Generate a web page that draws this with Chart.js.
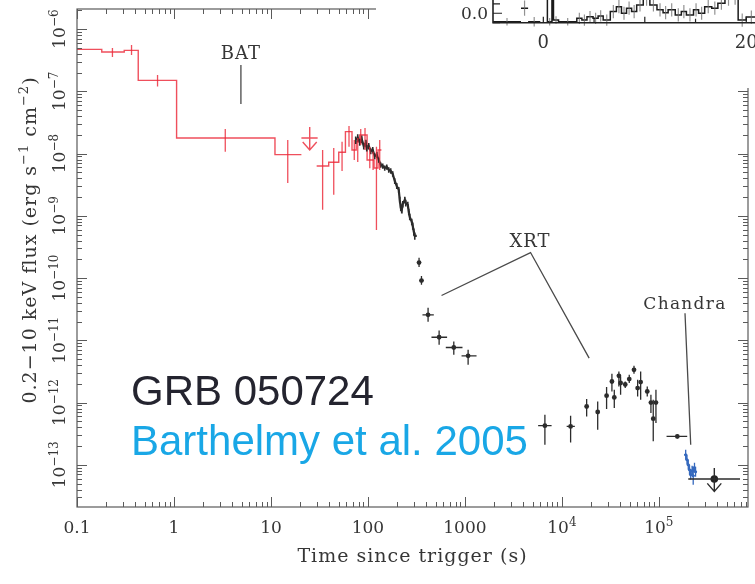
<!DOCTYPE html>
<html>
<head>
<meta charset="utf-8">
<script src="https://cdn.jsdelivr.net/npm/chart.js@4.4.1/dist/chart.umd.min.js"></script>
<style>
  html, body { margin: 0; padding: 0; background: #fff; overflow: hidden; width: 755px; height: 584px; }
  #wrap { position: relative; width: 755px; height: 584px; overflow: hidden; }
  #main { position: absolute; left: 0; top: 0; }
  #inset { position: absolute; left: 376px; top: -120px; }
</style>
</head>
<body>
<div id="wrap">
  <canvas id="main" width="755" height="584"></canvas>
  <canvas id="inset" width="379" height="208"></canvas>
</div>
<script>
// ---------------- BAT binned light curve (extrapolated to 0.2-10 keV) ----------------
const batBinStart = [0.1, 0.18, 0.307, 0.428, 1.064, 11.0, 29.6, 39.4, 50.0, 58.6, 68.5, 75.7, 82.3, 98.0, 115.6, 127.0];
const batBinEnd   = [0.18, 0.307, 0.428, 1.064, 11.0, 20.6, 39.4, 50.0, 58.6, 68.5, 75.7, 82.3, 98.0, 115.6, 127.0, 137.7];
const batFlux     = [4.72e-7, 4.27e-7, 4.55e-7, 1.50e-7, 1.78e-8, 9.6e-9, 6.32e-9, 7.25e-9, 1.05e-8, 2.25e-8, 1.14e-8, 1.55e-8, 1.99e-8, 7.9e-9, 5.87e-9, 1.14e-8];
const batErrTime  = [0.232, 0.365, 0.677, 3.38, 14.9, 34.1, 44.4, 54.1, 63.8, 72.3, 78.5, 84.3, 93.3, 104.5, 113.0, 122.4, 132.3];
const batErrLow   = [3.56e-7, 3.83e-7, 1.19e-7, 1.07e-8, 3.37e-9, 1.25e-9, 2.17e-9, 5.26e-9, 1.29e-8, 7.9e-9, 7.33e-9, 1.37e-8, 1.14e-8, 5.81e-9, 5.45e-9, 5.94e-10, 5.46e-9];
const batErrHigh  = [4.96e-7, 5.53e-7, 1.83e-7, 2.48e-8, 1.65e-8, 1.14e-8, 1.23e-8, 1.55e-8, 2.77e-8, 1.65e-8, 1.78e-8, 2.48e-8, 2.58e-8, 1.29e-8, 1.07e-8, 1.29e-8, 1.65e-8];

// ---------------- XRT windowed-timing curve (dense) ----------------
const xrtCurveTime = [74.8, 78.5, 82.3, 86.3, 90.5, 94.9, 97.2, 101.9, 106.9, 112.1, 117.5, 123.3, 129.2, 135.5, 142.1, 149.0, 156.3, 163.9, 171.8, 180.2, 189.0, 198.2, 207.8, 212.8, 218.0, 223.1, 228.6, 239.9, 245.5, 257.6, 263.6, 269.8, 283.1, 289.8, 297.2, 304.1, 318.9];
const xrtCurveFlux = [1.65e-8, 1.78e-8, 1.53e-8, 1.71e-8, 1.32e-8, 1.48e-8, 1.23e-8, 1.32e-8, 1.10e-8, 1.14e-8, 9.14e-9, 9.5e-9, 7.89e-9, 6.56e-9, 6.32e-9, 5.87e-9, 6.09e-9, 5.46e-9, 5.26e-9, 4.71e-9, 3.63e-9, 3.02e-9, 2.61e-9, 1.80e-9, 1.34e-9, 1.24e-9, 1.55e-9, 1.80e-9, 1.61e-9, 1.50e-9, 1.16e-9, 9.6e-10, 7.98e-10, 6.89e-10, 5.52e-10, 4.76e-10, 4.76e-10];
const xrtCurveRelErr = [0.14, 0.15, 0.13, 0.14, 0.12, 0.13, 0.12, 0.12, 0.11, 0.12, 0.11, 0.11, 0.1, 0.1, 0.1, 0.1, 0.1, 0.1, 0.1, 0.1, 0.11, 0.11, 0.11, 0.12, 0.12, 0.12, 0.12, 0.12, 0.12, 0.12, 0.12, 0.12, 0.12, 0.13, 0.13, 0.13, 0.0];

// ---------------- XRT photon-counting points ----------------
const xrtTime     = [336.6, 356.5, 417, 542, 768, 1079, 6680, 12300, 18000, 23400, 28900, 32800, 34700, 38700, 40300, 45000, 49500, 55400, 60400, 64900, 75900, 82800, 87500, 93300, 155000];
const xrtTimeLow  = [321, 340, 365, 452, 635, 923, 5690, 11200, 17300, 22500, 27800, 31500, 33400, 37200, 38700, 43300, 47600, 53300, 58100, 62400, 73000, 79600, 84100, 89700, 120000];
const xrtTimeHigh = [353, 374, 478, 655, 944, 1318, 7830, 13600, 18700, 24300, 30100, 34100, 36100, 40200, 41900, 46800, 51500, 57600, 62800, 67500, 78900, 86100, 91000, 97000, 196000];
const xrtFlux     = [1.77e-10, 9.12e-11, 2.57e-11, 1.12e-11, 7.66e-12, 5.64e-12, 4.25e-13, 4.13e-13, 8.65e-13, 7.05e-13, 1.29e-12, 2.18e-12, 1.21e-12, 2.69e-12, 2.06e-12, 1.95e-12, 2.38e-12, 3.36e-12, 1.71e-12, 2.13e-12, 1.51e-12, 1.00e-12, 5.50e-13, 1.00e-12, 2.86e-13];
const xrtFluxLow  = [1.51e-10, 7.78e-11, 1.98e-11, 8.47e-12, 5.85e-12, 4.05e-12, 2.10e-13, 2.29e-13, 5.98e-13, 3.66e-13, 7.87e-13, 1.51e-12, 8.17e-13, 1.81e-12, 1.33e-12, 1.71e-12, 2.06e-12, 2.90e-12, 1.25e-12, 1.11e-12, 1.25e-12, 6.78e-13, 2.38e-13, 4.69e-13, 2.65e-13];
const xrtFluxHigh = [2.11e-10, 1.08e-10, 3.32e-11, 1.44e-11, 9.57e-12, 7.05e-12, 6.37e-13, 6.14e-13, 1.14e-12, 1.04e-12, 1.77e-12, 2.90e-12, 1.60e-12, 3.16e-12, 2.62e-12, 2.18e-12, 2.79e-12, 3.90e-12, 2.32e-12, 3.16e-12, 1.81e-12, 1.33e-12, 1.11e-12, 1.60e-12, 3.08e-13];

// ---------------- Chandra points ----------------
const chTime     = [189000, 195000, 201000, 207000, 213000, 220000, 226000, 233000, 239000];
const chFlux     = [1.45e-13, 1.21e-13, 1.00e-13, 8.34e-14, 6.93e-14, 8.04e-14, 6.68e-14, 8.98e-14, 7.75e-14];
const chFluxLow  = [1.21e-13, 1.01e-13, 8.3e-14, 6.9e-14, 5.8e-14, 6.7e-14, 4.80e-14, 7.5e-14, 6.4e-14];
const chFluxHigh = [1.74e-13, 1.45e-13, 1.20e-13, 1.00e-13, 8.3e-14, 9.7e-14, 9.42e-14, 1.08e-13, 9.3e-14];

// ---------------- upper limits (BAT, late XRT) ----------------
const ulTime     = [25.1, 373000];
const ulTimeLow  = [20.6, 201000];
const ulTimeHigh = [30.3, 687000];
const ulFlux     = [1.78e-8, 5.92e-14];
const ulFluxTop  = [2.67e-8, 8.89e-14];
const ulFluxTip  = [1.14e-8, 3.74e-14];

// ---------------- axis ticks ----------------
const xTickValues = [0.1, 1, 10, 100, 1000, 1e4, 1e5];
const xTickBase   = ['0.1', '1', '10', '100', '1000', '10', '10'];
const xTickExp    = ['', '', '', '', '', '4', '5'];
const yTickExp    = [-13, -12, -11, -10, -9, -8, -7, -6];

// ---------------- BAT mask-weighted rate (inset panel) ----------------
const insetBinStart = [-4.96, -2.2, -1.5, -0.3, -0.15, 0.0, 0.15, 0.3, 0.4, 0.85, 1.0, 1.5, 3.3, 3.8, 4.3, 4.9, 5.4, 5.9, 6.6, 7.2, 7.7, 8.2, 8.7, 9.2, 9.85, 10.5, 11.2, 11.8, 12.3, 13.0, 13.6, 14.1, 14.8, 15.3, 15.9, 16.6, 17.2, 17.9, 18.6, 19.2, 20.0];
const insetRate     = [-0.045, 0.027, -0.045, 0.35, 0.1, 0.6, 0.2, 0.45, -0.045, 0.12, -0.036, -0.045, -0.027, -0.036, -0.018, -0.027, -0.014, -0.036, 0.009, 0.035, 0.0, 0.027, 0.009, 0.044, 0.075, 0.044, 0.018, 0.003, 0.018, -0.009, 0.009, -0.009, 0.018, 0.0, 0.035, 0.027, 0.053, 0.075, 0.08, -0.036, -0.02];
const insetRateErr  = [0.02, 0.04, 0.025, 0, 0, 0, 0, 0, 0.02, 0, 0.02, 0.02, 0.03, 0.03, 0.03, 0.03, 0.03, 0.03, 0.035, 0.035, 0.035, 0.035, 0.035, 0.035, 0.035, 0.035, 0.035, 0.035, 0.035, 0.035, 0.035, 0.035, 0.035, 0.035, 0.035, 0.035, 0.035, 0.035, 0.035, 0.035, 0.035];
const insetLastEnd  = 21.0;

// ---------------- styles ----------------
const RED = 'rgba(236, 40, 56, 0.82)';
const BLACK = '#2c2c2c';
const BLUE = '#3569be';
const AXIS = '#5a5a5a';
const TEXT = '#363636';
const SERIF = '"DejaVu Serif", "Liberation Serif", serif';

// step line points for a binned curve, breaking where bins are not contiguous
function stepPoints(starts, ends, vals) {
  const pts = [];
  for (let i = 0; i < starts.length; i++) {
    pts.push({ x: starts[i], y: vals[i] });
    const last = i === starts.length - 1;
    if (last || Math.abs(starts[i + 1] - ends[i]) > 1e-9 * ends[i]) {
      pts.push({ x: ends[i], y: vals[i] });
      if (!last) pts.push({ x: ends[i], y: null });
    }
  }
  return pts;
}

// draws text made of normal and superscript pieces
function drawRich(ctx, segs, x, y, align, size, spacing) {
  const supSize = Math.round(size * 0.7);
  const rise = size * 0.42;
  ctx.letterSpacing = spacing + 'px';
  let total = 0;
  const widths = segs.map(s => {
    ctx.font = (s.sup ? supSize : size) + 'px ' + SERIF;
    const w = ctx.measureText(s.t).width;
    total += w;
    return w;
  });
  let cx = align === 'center' ? x - total / 2 : (align === 'right' ? x - total : x);
  ctx.textAlign = 'left';
  ctx.textBaseline = 'alphabetic';
  segs.forEach((s, i) => {
    ctx.font = (s.sup ? supSize : size) + 'px ' + SERIF;
    ctx.fillText(s.t, cx, s.sup ? y - rise : y);
    cx += widths[i];
  });
  ctx.letterSpacing = '0px';
}

function logTicks(min, max) {
  const out = [];
  for (let d = Math.floor(Math.log10(min)); d <= Math.ceil(Math.log10(max)); d++) {
    for (let k = 1; k <= 9; k++) {
      const v = k * Math.pow(10, d);
      if (v >= min * 0.999 && v <= max * 1.001) out.push({ v, major: k === 1 });
    }
  }
  return out;
}

// ---------------- plugins for the main panel ----------------
const errorBars = {
  id: 'errorBars',
  afterDatasetsDraw(chart) {
    const { ctx, scales: { x, y } } = chart;
    const X = v => x.getPixelForValue(v), Y = v => y.getPixelForValue(v);
    ctx.save();
    // XRT windowed-timing scatter
    ctx.strokeStyle = BLACK; ctx.lineWidth = 1.6;
    ctx.beginPath();
    xrtCurveTime.forEach((t, i) => {
      const e = xrtCurveRelErr[i];
      if (!e) return;
      ctx.moveTo(X(t), Y(xrtCurveFlux[i] * (1 - e))); ctx.lineTo(X(t), Y(xrtCurveFlux[i] * (1 + e)));
    });
    ctx.stroke();
    // XRT photon-counting
    ctx.lineWidth = 1.3;
    ctx.beginPath();
    xrtTime.forEach((t, i) => {
      ctx.moveTo(X(t), Y(xrtFluxLow[i])); ctx.lineTo(X(t), Y(xrtFluxHigh[i]));
      ctx.moveTo(X(xrtTimeLow[i]), Y(xrtFlux[i])); ctx.lineTo(X(xrtTimeHigh[i]), Y(xrtFlux[i]));
    });
    ctx.stroke();
    // Chandra
    ctx.strokeStyle = BLUE; ctx.lineWidth = 1.3;
    ctx.beginPath();
    chTime.forEach((t, i) => {
      ctx.moveTo(X(t), Y(chFluxLow[i])); ctx.lineTo(X(t), Y(chFluxHigh[i]));
      ctx.moveTo(X(t * 0.965), Y(chFlux[i])); ctx.lineTo(X(t * 1.035), Y(chFlux[i]));
    });
    ctx.stroke();
    // BAT
    ctx.strokeStyle = RED; ctx.lineWidth = 1.3;
    ctx.beginPath();
    batErrTime.forEach((t, i) => {
      ctx.moveTo(X(t), Y(batErrLow[i])); ctx.lineTo(X(t), Y(batErrHigh[i]));
    });
    ctx.stroke();
    // upper limits
    ulTime.forEach((t, i) => {
      ctx.strokeStyle = i === 0 ? RED : BLACK;
      ctx.lineWidth = 1.4;
      const px = X(t), tip = Y(ulFluxTip[i]);
      ctx.beginPath();
      ctx.moveTo(X(ulTimeLow[i]), Y(ulFlux[i])); ctx.lineTo(X(ulTimeHigh[i]), Y(ulFlux[i]));
      ctx.moveTo(px, Y(ulFluxTop[i])); ctx.lineTo(px, tip);
      ctx.moveTo(px - 7, tip - 8); ctx.lineTo(px, tip); ctx.lineTo(px + 7, tip - 8);
      ctx.stroke();
    });
    ctx.restore();
  }
};

const frame = {
  id: 'frame',
  afterDraw(chart) {
    const { ctx, chartArea: a, scales: { x, y } } = chart;
    ctx.save();
    ctx.strokeStyle = AXIS; ctx.lineWidth = 1.2;
    ctx.strokeRect(a.left, a.top, a.right - a.left, a.bottom - a.top);
    ctx.lineWidth = 1;
    ctx.beginPath();
    logTicks(x.min, x.max).forEach(t => {
      const px = Math.round(x.getPixelForValue(t.v)) + 0.5, len = t.major ? 10 : 5;
      ctx.moveTo(px, a.bottom); ctx.lineTo(px, a.bottom - len);
      ctx.moveTo(px, a.top); ctx.lineTo(px, a.top + len);
    });
    logTicks(y.min, y.max).forEach(t => {
      const py = Math.round(y.getPixelForValue(t.v)) + 0.5, len = t.major ? 10 : 5;
      ctx.moveTo(a.left, py); ctx.lineTo(a.left + len, py);
      ctx.moveTo(a.right, py); ctx.lineTo(a.right - len, py);
    });
    ctx.stroke();

    ctx.fillStyle = TEXT;
    // x tick labels
    xTickValues.forEach((v, i) => {
      const segs = [{ t: xTickBase[i] }];
      if (xTickExp[i]) segs.push({ t: xTickExp[i], sup: true });
      drawRich(ctx, segs, x.getPixelForValue(v), a.bottom + 26, 'center', 17, 0);
    });
    // y tick labels (rotated)
    yTickExp.forEach(e => {
      ctx.save();
      ctx.translate(65, y.getPixelForValue(Math.pow(10, e)));
      ctx.rotate(-Math.PI / 2);
      drawRich(ctx, [{ t: '10' }, { t: '\u2212' + Math.abs(e), sup: true }], 0, 0, 'center', 17, 0);
      ctx.restore();
    });
    // axis titles
    drawRich(ctx, [{ t: 'Time since trigger (s)' }], (a.left + a.right) / 2, 562, 'center', 19, 1);
    ctx.save();
    ctx.translate(36, 240);
    ctx.rotate(-Math.PI / 2);
    drawRich(ctx, [{ t: '0.2\u221210 keV flux (erg s' }, { t: '\u22121', sup: true }, { t: ' cm' }, { t: '\u22122', sup: true }, { t: ')' }], 0, 0, 'center', 19, 1);
    ctx.restore();

    // instrument annotations
    const X = v => x.getPixelForValue(v), Y = v => y.getPixelForValue(v);
    ctx.strokeStyle = '#4a4a4a'; ctx.lineWidth = 1.3;
    ctx.beginPath();
    ctx.moveTo(X(4.9), Y(2.64e-7)); ctx.lineTo(X(4.9), Y(6.25e-8));
    ctx.moveTo(X(574), Y(5.24e-11)); ctx.lineTo(X(4750), Y(2.57e-10)); ctx.lineTo(X(19100), Y(5.18e-12));
    ctx.moveTo(X(186000), Y(2.73e-11)); ctx.lineTo(X(213000), Y(2.1e-13));
    ctx.stroke();
    ctx.fillStyle = TEXT;
    drawRich(ctx, [{ t: 'BAT' }], X(4.9), Y(4.07e-7) + 6, 'center', 18, 1);
    drawRich(ctx, [{ t: 'XRT' }], X(4680), Y(4.0e-10) + 6, 'center', 18, 1);
    drawRich(ctx, [{ t: 'Chandra' }], X(186000), Y(4.0e-11) + 6, 'center', 17, 1.3);

    // burst name and reference
    ctx.font = '42px "Liberation Sans", Arial, sans-serif';
    ctx.textAlign = 'left'; ctx.textBaseline = 'alphabetic';
    ctx.fillStyle = '#24242f';
    ctx.fillText('GRB 050724', 131, 405);
    ctx.fillStyle = '#19a7e6';
    ctx.fillText('Barthelmy et al. 2005', 131, 455);
    ctx.restore();
  }
};

new Chart(document.getElementById('main'), {
  type: 'line',
  data: {
    datasets: [
      { label: 'BAT', data: stepPoints(batBinStart, batBinEnd, batFlux), stepped: true, spanGaps: false,
        borderColor: RED, borderWidth: 1.4, pointRadius: 0, order: 0 },
      { label: 'XRT WT', data: xrtCurveTime.map((t, i) => ({ x: t, y: xrtCurveFlux[i] })),
        borderColor: BLACK, borderWidth: 2.2, pointRadius: 0, tension: 0, order: 3 },
      { label: 'XRT PC', data: xrtTime.map((t, i) => ({ x: t, y: xrtFlux[i] })), showLine: false,
        pointRadius: 2.4, pointBackgroundColor: BLACK, pointBorderWidth: 0, order: 2 },
      { label: 'Chandra', data: chTime.map((t, i) => ({ x: t, y: chFlux[i] })), showLine: false,
        pointRadius: 1.5, pointBackgroundColor: BLUE, pointBorderWidth: 0, order: 2 },
      { label: 'late limit', data: [{ x: ulTime[1], y: ulFlux[1] }], showLine: false,
        pointRadius: 3.8, pointBackgroundColor: '#222', pointBorderWidth: 0, order: 2 }
    ]
  },
  options: {
    responsive: false, animation: false, devicePixelRatio: 1,
    layout: { padding: { left: 77, right: 7, top: 9, bottom: 77 } },
    plugins: { legend: { display: false }, tooltip: { enabled: false } },
    scales: {
      x: { type: 'logarithmic', min: 0.1, max: 8.3e5, display: false },
      y: { type: 'logarithmic', min: 2.1e-14, max: 2.1e-6, display: false }
    }
  },
  plugins: [errorBars, frame]
});

// ---------------- inset: BAT rate around the trigger ----------------
const insetDeco = {
  id: 'insetDeco',
  beforeDraw(chart) {
    const { ctx, width, height } = chart;
    ctx.save(); ctx.fillStyle = '#fff'; ctx.fillRect(0, 0, width, height); ctx.restore();
  },
  afterDatasetsDraw(chart) {
    const { ctx, scales: { x, y } } = chart;
    ctx.save();
    ctx.strokeStyle = 'rgba(110,110,110,0.75)'; ctx.lineWidth = 1.2;
    ctx.beginPath();
    insetBinStart.forEach((s, i) => {
      if (!insetRateErr[i]) return;
      const e = i + 1 < insetBinStart.length ? insetBinStart[i + 1] : insetLastEnd;
      const px = x.getPixelForValue((s + e) / 2);
      ctx.moveTo(px, y.getPixelForValue(insetRate[i] - insetRateErr[i]));
      ctx.lineTo(px, y.getPixelForValue(insetRate[i] + insetRateErr[i]));
    });
    ctx.stroke();
    ctx.restore();
  },
  afterDraw(chart) {
    const { ctx, chartArea: a, scales: { x, y } } = chart;
    ctx.save();
    ctx.strokeStyle = '#222'; ctx.lineWidth = 1.6;
    ctx.beginPath();
    ctx.moveTo(a.left, a.top); ctx.lineTo(a.left, a.bottom); ctx.lineTo(a.right, a.bottom);
    ctx.stroke();
    ctx.lineWidth = 1.2;
    ctx.beginPath();
    [0, 5, 10, 15, 20].forEach(v => {
      const px = x.getPixelForValue(v);
      ctx.moveTo(px, a.bottom); ctx.lineTo(px, a.bottom - (v % 10 === 0 ? 6 : 4));
    });
    [-0.05, 0, 0.05, 0.1].forEach(v => {
      const py = y.getPixelForValue(v);
      ctx.moveTo(a.left, py); ctx.lineTo(a.left + (v === 0 ? 9 : 7), py);
    });
    ctx.stroke();
    ctx.fillStyle = '#333';
    drawRich(ctx, [{ t: '0.0' }], a.left - 5, y.getPixelForValue(0) + 6, 'right', 17, 0);
    drawRich(ctx, [{ t: '0' }], x.getPixelForValue(0), a.bottom + 25, 'center', 18, 0);
    drawRich(ctx, [{ t: '20' }], x.getPixelForValue(20), a.bottom + 25, 'center', 18, 0);
    ctx.restore();
  }
};

new Chart(document.getElementById('inset'), {
  type: 'line',
  data: {
    datasets: [{
      label: 'BAT rate',
      data: stepPoints(insetBinStart, insetBinStart.slice(1).concat([insetLastEnd]), insetRate),
      stepped: true, borderColor: '#1a1a1a', borderWidth: 1.5, pointRadius: 0
    }]
  },
  options: {
    responsive: false, animation: false, devicePixelRatio: 1,
    layout: { padding: { left: 117, right: 0, top: 20, bottom: 65.3 } },
    plugins: { legend: { display: false }, tooltip: { enabled: false } },
    scales: {
      x: { type: 'linear', min: -4.96, max: 20.86, display: false },
      y: { type: 'linear', min: -0.05, max: 0.6, display: false }
    }
  },
  plugins: [insetDeco]
});
</script>
</body>
</html>
